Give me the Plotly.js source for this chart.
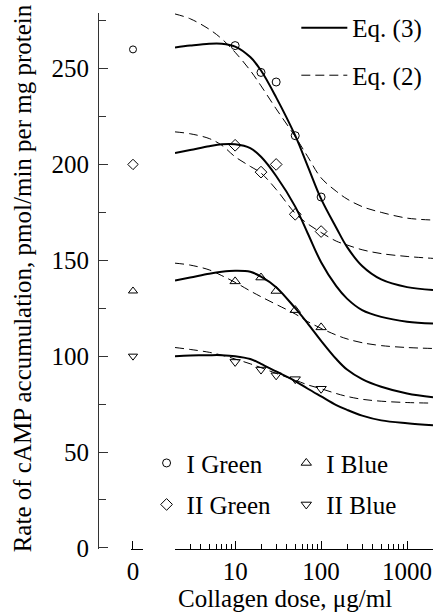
<!DOCTYPE html>
<html>
<head>
<meta charset="utf-8">
<script src="https://cdn.plot.ly/plotly-3.0.1.min.js"></script>
<style>html,body{margin:0;padding:0;background:#fff;}#chart{width:433px;height:612px;}</style>
</head>
<body>
<div id="chart"></div>
<script>
// ---- data ----
const seriesNames = ['I Green', 'II Green', 'I Blue', 'II Blue'];
const zeroDoseValues = [260, 200, 134, 100];
const doses = [10, 20, 30, 50, 100];
const iGreen = [262, 248, 243, 215, 183];
const iiGreen = [210, 196, 200, 174, 165];
const iBlue = [139, 141, 134, 124, 115];
const iiBlue = [97, 93, 90, 88, 83];

const curveDoses = [2, 3, 5, 7, 10, 15, 20, 30, 50, 70, 100, 150, 200, 300, 500, 1000, 2000];
// Eq. (3) fits (solid)
const eq3IGreen = [261, 262, 263, 263, 261.5, 256, 249, 235, 215, 199, 182, 167, 157, 147, 140, 136, 134.5];
const eq3IIGreen = [206, 207.5, 209.5, 210.5, 210.5, 208.5, 204, 194, 178, 164, 149, 136.5, 130, 124, 120.5, 118, 117];
const eq3IBlue = [139.5, 141, 143, 144, 144.5, 144, 141.5, 136, 125, 117, 108, 98.5, 93, 88, 84, 80.5, 78.5];
const eq3IIBlue = [100, 100.3, 100.5, 100.5, 100, 98.5, 96, 92, 87, 83, 79, 74.5, 72, 69, 66.5, 65, 64];
// Eq. (2) fits (dashed)
const eq2IGreen = [278.5, 276, 270.5, 265.5, 258.5, 249, 241, 229, 214.5, 204, 193, 186, 182, 178, 175, 172, 171];
const eq2IIGreen = [217, 216, 213.5, 210, 204, 199, 195.5, 187, 174.5, 169, 164.5, 160, 158, 155.5, 153.5, 152, 151];
const eq2IBlue = [148.5, 147.5, 145, 142, 138.5, 134, 131, 127, 122, 118, 114.5, 111, 109, 107, 105.5, 104.5, 104];
const eq2IIBlue = [104.5, 103.5, 102, 100.5, 98.5, 96, 94, 91, 87.5, 85, 83, 80.5, 79, 77.5, 76.5, 75.8, 75.5];

const yTickVals = [0, 50, 100, 150, 200, 250];
const xTickVals = [10, 100, 1000];
const xTickText = ['10', '100', '1000'];
const xMinorVals = [2,3,4,5,6,7,8,9,20,30,40,50,60,70,80,90,200,300,400,500,600,700,800,900,2000];

// ---- styling ----
const FONT = 'Liberation Serif';
const FS = 25;
const symbols = ['circle-open', 'diamond-open', 'triangle-up-open', 'triangle-down-open'];
const sizes = [8, 9, 9, 9];
const legendOf = ['legend2', 'legend2', 'legend3', 'legend3'];
const pointSeries = [iGreen, iiGreen, iBlue, iiBlue];
const eq3 = [eq3IGreen, eq3IIGreen, eq3IBlue, eq3IIBlue];
const eq2 = [eq2IGreen, eq2IIGreen, eq2IBlue, eq2IIBlue];

const traces = [];
for (let i = 0; i < 4; i++) {
  traces.push({
    x: curveDoses, y: eq3[i], xaxis: 'x2', yaxis: 'y', mode: 'lines',
    line: {color: '#000', width: 2, shape: 'spline', smoothing: 1},
    name: 'Eq. (3)', legend: 'legend', legendgroup: 'eq3', showlegend: i === 0, hoverinfo: 'skip'
  });
  traces.push({
    x: curveDoses, y: eq2[i], xaxis: 'x2', yaxis: 'y', mode: 'lines',
    line: {color: '#000', width: 1, dash: '9px,5px', shape: 'spline', smoothing: 1},
    name: 'Eq. (2)', legend: 'legend', legendgroup: 'eq2', showlegend: i === 0, hoverinfo: 'skip'
  });
}
for (let i = 0; i < 4; i++) {
  const mk = {symbol: symbols[i], size: sizes[i], color: '#000', line: {color: '#000', width: 1}};
  traces.push({
    x: doses, y: pointSeries[i], xaxis: 'x2', yaxis: 'y', mode: 'markers', marker: mk,
    name: seriesNames[i], legend: legendOf[i], legendgroup: 'g' + i, showlegend: true, cliponaxis: false
  });
  traces.push({
    x: [0], y: [zeroDoseValues[i]], xaxis: 'x', yaxis: 'y', mode: 'markers',
    marker: Object.assign({}, mk, {size: sizes[i] - 1}),
    name: seriesNames[i], legend: legendOf[i], legendgroup: 'g' + i, showlegend: false, cliponaxis: false
  });
}

const legendCommon = {
  font: {family: FONT, size: FS, color: '#000'}, bgcolor: 'rgba(0,0,0,0)', borderwidth: 0,
  xref: 'paper', yref: 'paper', xanchor: 'left', yanchor: 'top', orientation: 'v', traceorder: 'grouped'
};

const layout = {
  width: 433, height: 612,
  margin: {l: 98, r: 0, t: 13, b: 63, pad: 0},
  paper_bgcolor: '#fff', plot_bgcolor: '#fff',
  font: {family: FONT, size: FS, color: '#000'},
  showlegend: true,
  xaxis: {
    domain: [0.0985, 0.1343], range: [-0.2, 1], anchor: 'y',
    tickvals: [0], ticktext: ['0'], ticks: 'inside', ticklen: 8, tickwidth: 1, tickcolor: '#000',
    showline: true, linecolor: '#000', linewidth: 1, showgrid: false, zeroline: false,
    tickfont: {family: FONT, size: FS, color: '#000'}
  },
  xaxis2: {
    type: 'log', domain: [0.2299, 1], range: [Math.log10(2), Math.log10(2000)], anchor: 'y',
    tickvals: xTickVals, ticktext: xTickText, ticks: 'inside', ticklen: 8, tickwidth: 1, tickcolor: '#000',
    minor: {tickvals: xMinorVals, ticks: 'inside', ticklen: 5, tickwidth: 1, tickcolor: '#000', showgrid: false},
    showline: true, linecolor: '#000', linewidth: 1, showgrid: false, zeroline: false,
    tickfont: {family: FONT, size: FS, color: '#000'}
  },
  yaxis: {
    range: [-0.6, 279], anchor: 'free', position: 0,
    tickvals: yTickVals, ticks: 'inside', ticklen: 9, tickwidth: 1, tickcolor: '#333',
    minor: {dtick: 25, tick0: 0, ticks: 'inside', ticklen: 7, tickwidth: 1, tickcolor: '#333', showgrid: false},
    showline: true, linecolor: '#333', linewidth: 1, showgrid: false, zeroline: false,
    ticklabelstandoff: 4,
    tickfont: {family: FONT, size: FS, color: '#000'}
  },
  legend: Object.assign({}, legendCommon, {x: 0.592, y: 1.015, tracegroupgap: 12, itemwidth: 46}),
  legend2: Object.assign({}, legendCommon, {x: 0.145, y: 0.203, tracegroupgap: 6}),
  legend3: Object.assign({}, legendCommon, {x: 0.562, y: 0.203, tracegroupgap: 6}),
  annotations: [
    {text: 'Collagen dose, \u03bcg/ml', xref: 'paper', yref: 'paper', x: 0.558, y: -0.0916,
     xanchor: 'center', yanchor: 'middle', showarrow: false, font: {family: FONT, size: FS, color: '#000'}},
    {text: 'Rate of cAMP accumulation, pmol/min per mg protein', xref: 'paper', yref: 'paper',
     x: -0.2269, y: 0.505, xanchor: 'center', yanchor: 'middle', textangle: -90, showarrow: false,
     font: {family: FONT, size: FS, color: '#000'}}
  ]
};

Plotly.newPlot('chart', traces, layout, {staticPlot: true, displayModeBar: false});
</script>
</body>
</html>
